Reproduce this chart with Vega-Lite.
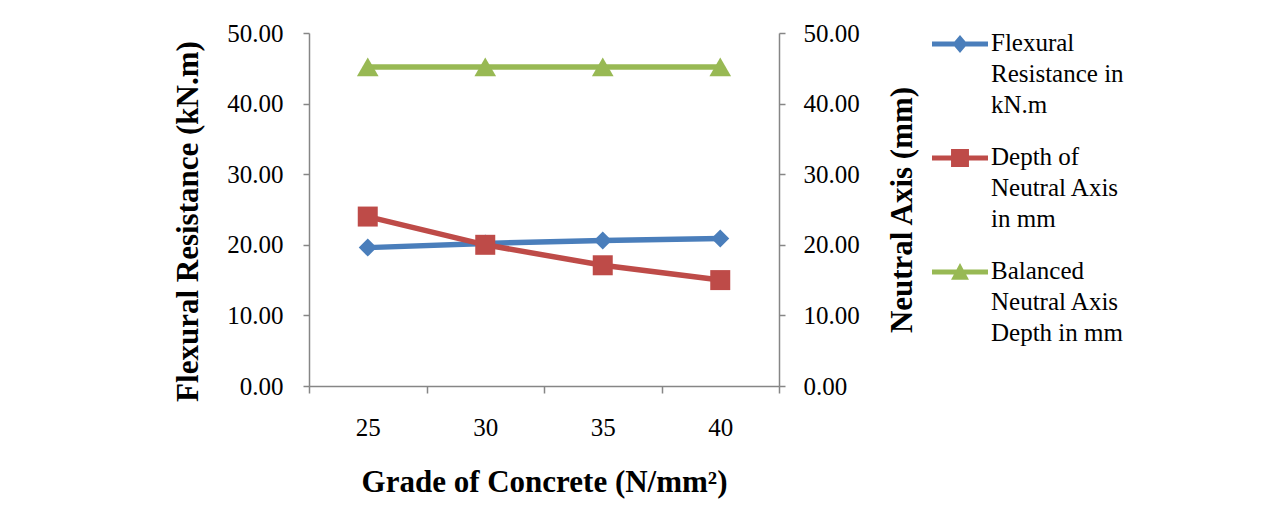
{
  "$schema": "https://vega.github.io/schema/vega-lite/v6.json",
  "width": 470,
  "height": 353,
  "autosize": {"type": "none"},
  "padding": {"left": 309, "top": 33, "right": 504, "bottom": 139},
  "background": "white",
  "config": {
    "view": {"stroke": null},
    "font": "Liberation Serif",
    "axis": {
      "labelFont": "Liberation Serif",
      "labelFontSize": 25,
      "labelColor": "black",
      "titleFont": "Liberation Serif",
      "titleFontSize": 31,
      "titleFontWeight": "bold",
      "titleColor": "black",
      "domainColor": "#868686",
      "domainWidth": 1.5,
      "tickColor": "#868686",
      "tickWidth": 1.5,
      "tickSize": 7,
      "grid": false
    }
  },
  "data": {
    "values": [
      {"grade": 25, "series": "Flexural Resistance in kN.m", "value": 19.6},
      {"grade": 30, "series": "Flexural Resistance in kN.m", "value": 20.2},
      {"grade": 35, "series": "Flexural Resistance in kN.m", "value": 20.6},
      {"grade": 40, "series": "Flexural Resistance in kN.m", "value": 20.9},
      {"grade": 25, "series": "Depth of Neutral Axis in mm", "value": 24.0},
      {"grade": 30, "series": "Depth of Neutral Axis in mm", "value": 20.0},
      {"grade": 35, "series": "Depth of Neutral Axis in mm", "value": 17.1},
      {"grade": 40, "series": "Depth of Neutral Axis in mm", "value": 15.0},
      {"grade": 25, "series": "Balanced Neutral Axis Depth in mm", "value": 45.2},
      {"grade": 30, "series": "Balanced Neutral Axis Depth in mm", "value": 45.2},
      {"grade": 35, "series": "Balanced Neutral Axis Depth in mm", "value": 45.2},
      {"grade": 40, "series": "Balanced Neutral Axis Depth in mm", "value": 45.2}
    ]
  },
  "encoding": {
    "x": {
      "field": "grade",
      "type": "ordinal",
      "scale": {"type": "band", "paddingInner": 0, "paddingOuter": 0},
      "axis": {
        "title": "Grade of Concrete (N/mm²)",
        "labelAngle": 0,
        "tickBand": "extent",
        "labelPadding": 22,
        "titlePadding": 27
      }
    },
    "color": {
      "field": "series",
      "type": "nominal",
      "scale": {
        "domain": ["Flexural Resistance in kN.m", "Depth of Neutral Axis in mm", "Balanced Neutral Axis Depth in mm"],
        "range": ["#4A7EBB", "#BE4B48", "#98B954"]
      },
      "legend": {
        "orient": "none",
        "legendX": 623,
        "legendY": -17,
        "title": null,
        "padding": 0,
        "symbolSize": 3136,
        "symbolStrokeWidth": 0,
        "labelFont": "Liberation Serif",
        "labelFontSize": 25,
        "labelColor": "black",
        "labelLimit": 400,
        "labelOffset": 3,
        "labelBaseline": "top",
        "rowPadding": 12,
        "labelExpr": "datum.value == 'Flexural Resistance in kN.m' ? ['Flexural', 'Resistance in', 'kN.m'] : datum.value == 'Depth of Neutral Axis in mm' ? ['Depth of', 'Neutral Axis', 'in mm'] : ['Balanced', 'Neutral Axis', 'Depth in mm']",
        "encode": {
          "symbols": {
            "update": {
              "shape": {"signal": "datum.value == 'Flexural Resistance in kN.m' ? 'M-1,-0.09H1V0.09H-1Z M0,-0.32L0.27,0L0,0.32L-0.27,0Z' : datum.value == 'Depth of Neutral Axis in mm' ? 'M-1,-0.09H1V0.09H-1Z M-0.32,-0.32H0.32V0.32H-0.32Z' : 'M-1,-0.09H1V0.09H-1Z M0,-0.32L0.32,0.28L-0.32,0.28Z'"},
              "fill": {"signal": "scale('color', datum.value)"},
              "stroke": {"value": "transparent"},
              "opacity": {"value": 1}
            }
          },
          "labels": {
            "update": {
              "lineHeight": {"value": 31},
              "dy": {"value": -13}
            }
          }
        }
      }
    }
  },
  "layer": [
    {
      "transform": [{"filter": "datum.series == 'Flexural Resistance in kN.m'"}],
      "encoding": {
        "y": {
          "field": "value",
          "type": "quantitative",
          "scale": {"domain": [0, 50]},
          "axis": {
            "orient": "left",
            "title": "Flexural Resistance (kN.m)",
            "values": [0, 10, 20, 30, 40, 50],
            "format": ".2f",
            "tickSize": 6,
            "labelPadding": 20,
            "titlePadding": 22,
            "titleY": 188
          }
        }
      },
      "layer": [
        {"mark": {"type": "line", "strokeWidth": 5.5}},
        {"mark": {"type": "point", "shape": "diamond", "filled": true, "opacity": 1, "size": 324}}
      ]
    },
    {
      "transform": [{"filter": "datum.series != 'Flexural Resistance in kN.m'"}],
      "encoding": {
        "y": {
          "field": "value",
          "type": "quantitative",
          "scale": {"domain": [0, 50]},
          "axis": {
            "orient": "right",
            "title": "Neutral Axis (mm)",
            "titleAngle": 270,
            "titleBaseline": "top",
            "values": [0, 10, 20, 30, 40, 50],
            "format": ".2f",
            "tickSize": 6,
            "labelPadding": 18,
            "titlePadding": 28
          }
        }
      },
      "layer": [
        {"mark": {"type": "line", "strokeWidth": 5.5}},
        {
          "transform": [{"filter": "datum.series == 'Depth of Neutral Axis in mm'"}],
          "mark": {"type": "point", "shape": "square", "filled": true, "opacity": 1, "size": 400}
        },
        {
          "transform": [{"filter": "datum.series == 'Balanced Neutral Axis Depth in mm'"}],
          "mark": {"type": "point", "shape": "triangle-up", "filled": true, "opacity": 1, "size": 470}
        }
      ]
    }
  ],
  "resolve": {"scale": {"y": "independent"}}
}
